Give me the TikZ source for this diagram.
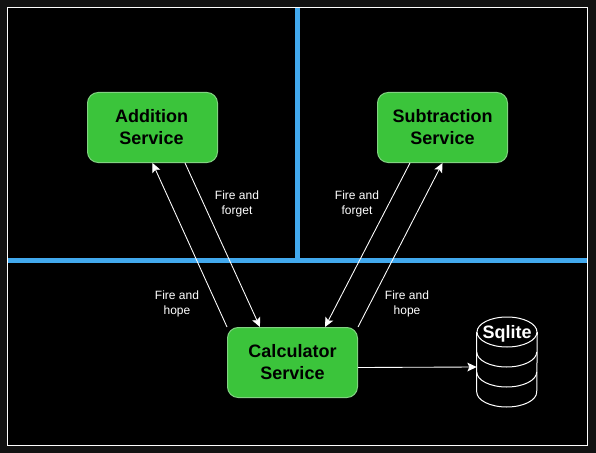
\documentclass[tikz,border=0pt]{standalone}
\usepackage{fontspec}
\setmainfont{Liberation Sans}
\usepackage{tikz}
\usetikzlibrary{arrows.meta}
\definecolor{pagebg}{HTML}{121212}
\definecolor{wallblue}{HTML}{42A9EE}
\definecolor{svcgreen}{HTML}{3BC43B}
\definecolor{svcedge}{HTML}{82D282}
\tikzstyle{service} = [rectangle, rounded corners=8pt, minimum width=97.5pt, minimum height=52.5pt, inner sep=0pt, align=center, draw=svcedge, line width=0.75pt, fill=svcgreen, text=black, font=\fontsize{13.5}{16.5}\selectfont\bfseries]
\tikzstyle{arrow} = [white, line width=0.65pt, -{Stealth[length=7pt,width=6.5pt,inset=1.5pt]}]
\tikzstyle{wall} = [wallblue, line width=3.75pt]
\tikzstyle{note} = [text=white, align=center, inner sep=0pt, font=\fontsize{9}{11.25}\selectfont]
\tikzstyle{dbbox} = [rectangle, minimum width=45pt, minimum height=67.5pt, inner sep=0pt]
\tikzstyle{dbline} = [white, line width=0.75pt]

\begin{document}
\begin{tikzpicture}[x=0.75pt,y=-0.75pt]
\fill [pagebg] (0,0) rectangle (596,453);
\useasboundingbox (0,0) rectangle (596,453);
\draw [white, line width=0.75pt, fill=black] (7.5,7.5) rectangle (587.5,445.5);

\draw [wall] (297,8) -- (297,260);
\draw [wall] (8,260) -- (587,260);

\node (add) [service] at (152.5,127.5) {\hspace{-1.5pt}Addition\\\hspace{-1.5pt}Service};
\node (sub) [service] at (442.5,127.5) {Subtraction\\Service};
\node (calc) [service] at (292.5,362.5) {Calculator\\Service};
\node (sqlite) [dbbox] at (507,362) {};

\draw [dbline] ([yshift=22.5pt]sqlite.center) ellipse [x radius=22.5pt, y radius=11.25pt];
\draw [dbline] ([yshift=22.5pt]sqlite.west) -- ([yshift=-22.5pt]sqlite.west) arc (180:360:22.5pt and 11.25pt) -- ([yshift=22.5pt]sqlite.east);
\draw [dbline] ([yshift=7.5pt]sqlite.west) arc (180:360:22.5pt and 11.25pt);
\draw [dbline] ([yshift=-7.5pt]sqlite.west) arc (180:360:22.5pt and 11.25pt);
\node (dbname) [note, font=\fontsize{13.5}{16.5}\selectfont\bfseries] at (507,333.5) {Sqlite};

\draw [arrow] ([xshift=24.4pt]add.south) -- ([xshift=-24.4pt]calc.north);
\draw [arrow] (calc.north west) -- (add.south);
\draw [arrow] ([xshift=-24.4pt]sub.south) -- ([xshift=24.4pt]calc.north);
\draw [arrow] (calc.north east) -- (sub.south);
\draw [arrow] ([yshift=-3.75pt]calc.east) -- ([yshift=-3.75pt]sqlite.west);

\node (forget1) [note] at (237,203.5) {Fire and\\forget};
\node (forget2) [note] at (357,203.5) {Fire and\\forget};
\node (hope1) [note] at (177,303.5) {Fire and\\hope};
\node (hope2) [note] at (407,303.5) {Fire and\\hope};

\end{tikzpicture}
\end{document}
